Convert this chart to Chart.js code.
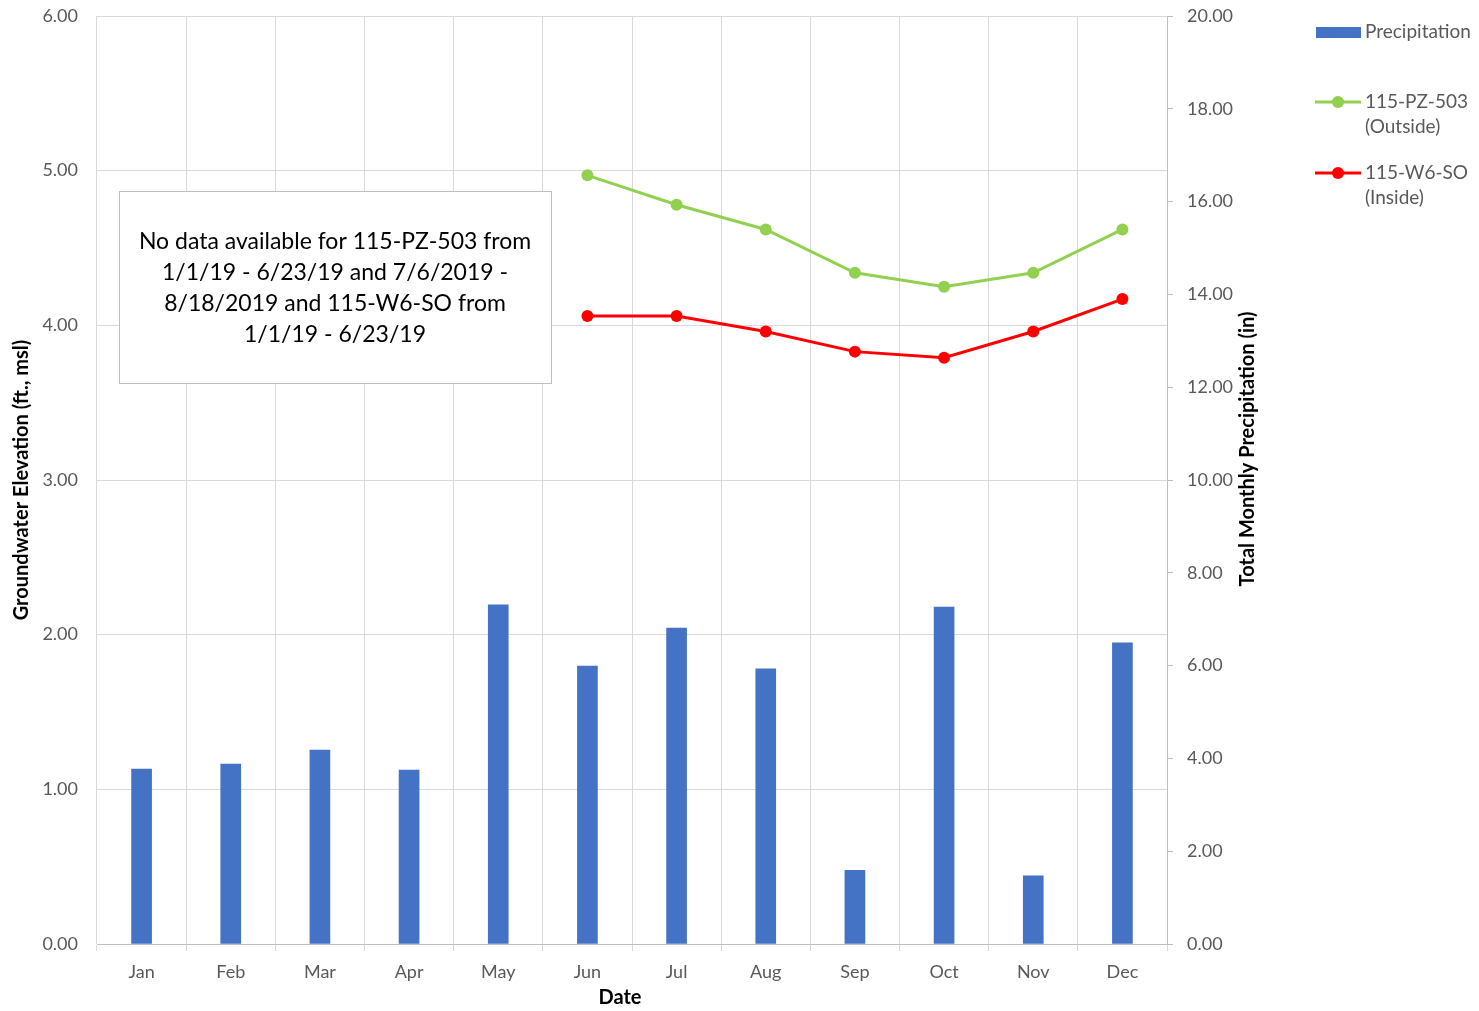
<!DOCTYPE html>
<html>
<head>
<meta charset="utf-8">
<script src="https://cdn.jsdelivr.net/npm/chart.js@4.4.1/dist/chart.umd.min.js"></script>
<style>
  html, body { margin: 0; padding: 0; background: #fff; }
  #wrap { width: 1479px; height: 1011px; position: relative; }
</style>
</head>
<body>
<div id="wrap"><canvas id="c"></canvas></div>
<script>
// Dữ liệu
const months = ["Jan", "Feb", "Mar", "Apr", "May", "Jun", "Jul", "Aug", "Sep", "Oct", "Nov", "Dec"];
const precipitation = [3.77, 3.88, 4.18, 3.75, 7.31, 5.99, 6.81, 5.93, 1.59, 7.26, 1.47, 6.49];
const pz503 = [null, null, null, null, null, 4.97, 4.78, 4.62, 4.34, 4.25, 4.34, 4.62];
const w6so = [null, null, null, null, null, 4.06, 4.06, 3.96, 3.83, 3.79, 3.96, 4.17];
const leftTicks = [0, 1, 2, 3, 4, 5, 6];
const rightTicks = [0, 2, 4, 6, 8, 10, 12, 14, 16, 18, 20];
const noteLines = [
  "No data available for 115-PZ-503 from",
  "1/1/19 - 6/23/19 and 7/6/2019 -",
  "8/18/2019 and 115-W6-SO from",
  "1/1/19 - 6/23/19"
];

const FONT = "Lato, 'Open Sans', sans-serif";
const TICK_COLOR = "#595959";
const GRID = "#d9d9d9";

// Ô ghi chú + chú giải bên phải + tiêu đề trục (vẽ tay)
const extras = {
  id: "extras",
  afterDraw(chart) {
    const ctx = chart.ctx;
    const ca = chart.chartArea;
    ctx.save();

    // ô ghi chú
    const bx = ca.left + 22, by = ca.top + 175, bw = 432, bh = 192;
    ctx.fillStyle = "#fff";
    ctx.fillRect(bx, by, bw, bh);
    ctx.strokeStyle = "#bfbfbf";
    ctx.lineWidth = 1;
    ctx.strokeRect(bx + 0.5, by + 0.5, bw, bh);
    ctx.fillStyle = "#000";
    ctx.font = "23px " + FONT;
    ctx.textAlign = "center";
    ctx.textBaseline = "middle";
    noteLines.forEach((t, i) => ctx.fillText(t, bx + bw / 2, by + 51 + i * 31));

    // tiêu đề trục x
    ctx.font = "bold 20px " + FONT;
    ctx.fillText("Date", 620, 998);

    // tiêu đề trục phải (đọc từ dưới lên)
    ctx.save();
    ctx.translate(1248, 449);
    ctx.rotate(-Math.PI / 2);
    ctx.fillText("Total Monthly Precipitation (in)", 0, 0);
    ctx.restore();

    // chú giải
    ctx.textAlign = "left";
    ctx.font = "19px " + FONT;
    ctx.fillStyle = "#4472c4";
    ctx.fillRect(1316, 27, 45, 11);
    ctx.fillStyle = TICK_COLOR;
    ctx.fillText("Precipitation", 1365, 32);

    const lineItem = (y, color, l1, l2) => {
      ctx.strokeStyle = color;
      ctx.lineWidth = 3;
      ctx.beginPath();
      ctx.moveTo(1315, y);
      ctx.lineTo(1361, y);
      ctx.stroke();
      ctx.fillStyle = color;
      ctx.beginPath();
      ctx.arc(1338, y, 6, 0, Math.PI * 2);
      ctx.fill();
      ctx.fillStyle = TICK_COLOR;
      ctx.fillText(l1, 1365, y);
      ctx.fillText(l2, 1365, y + 25);
    };
    lineItem(102, "#92d050", "115-PZ-503", "(Outside)");
    lineItem(173, "#ff0000", "115-W6-SO", "(Inside)");

    ctx.restore();
  }
};

new Chart(document.getElementById("c"), {
  data: {
    labels: months,
    datasets: [
      {
        type: "line",
        label: "115-PZ-503 (Outside)",
        data: pz503,
        yAxisID: "y",
        borderColor: "#92d050",
        backgroundColor: "#92d050",
        borderWidth: 3,
        pointRadius: 6,
        pointBorderWidth: 0,
        tension: 0,
        order: 1
      },
      {
        type: "line",
        label: "115-W6-SO (Inside)",
        data: w6so,
        yAxisID: "y",
        borderColor: "#ff0000",
        backgroundColor: "#ff0000",
        borderWidth: 3,
        pointRadius: 6,
        pointBorderWidth: 0,
        tension: 0,
        order: 0
      },
      {
        type: "bar",
        label: "Precipitation",
        data: precipitation,
        yAxisID: "y2",
        backgroundColor: "#4472c4",
        barThickness: 20,
        order: 2
      }
    ]
  },
  options: {
    responsive: true,
    maintainAspectRatio: false,
    animation: false,
    layout: { padding: { left: 0, right: 189, top: 16, bottom: 0 } },
    plugins: {
      legend: { display: false },
      tooltip: { enabled: false }
    },
    scales: {
      x: {
        type: "category",
        offset: true,
        grid: { display: true, offset: true, color: GRID, tickLength: 7, tickColor: GRID },
        border: { color: "#bfbfbf" },
        ticks: { color: TICK_COLOR, font: { family: FONT, size: 18 }, padding: 10 },
        afterFit: (s) => { s.height = 67; s.paddingLeft = 0; s.paddingRight = 0; }
      },
      y: {
        position: "left",
        min: 0,
        max: 6,
        afterBuildTicks: (s) => { s.ticks = leftTicks.map((v) => ({ value: v })); },
        grid: { color: GRID, drawTicks: false },
        border: { display: false },
        ticks: {
          color: TICK_COLOR,
          font: { family: FONT, size: 18 },
          padding: 19,
          callback: (v) => v.toFixed(2)
        },
        title: { display: true, text: "Groundwater Elevation (ft., msl)", color: "#000", font: { family: FONT, size: 20, weight: "bold" }, padding: { top: 10, bottom: 0 } },
        afterFit: (s) => { s.width = 97; s.paddingTop = 0; s.paddingBottom = 0; }
      },
      y2: {
        position: "right",
        min: 0,
        max: 20,
        afterBuildTicks: (s) => { s.ticks = rightTicks.map((v) => ({ value: v })); },
        grid: { drawOnChartArea: false, tickLength: 6, tickColor: "#bfbfbf" },
        border: { display: true, color: "#bfbfbf" },
        ticks: {
          color: TICK_COLOR,
          font: { family: FONT, size: 18 },
          padding: 14,
          callback: (v) => v.toFixed(2)
        },
        afterFit: (s) => { s.width = 123; s.paddingTop = 0; s.paddingBottom = 0; }
      }
    }
  },
  plugins: [extras]
});
</script>
</body>
</html>
